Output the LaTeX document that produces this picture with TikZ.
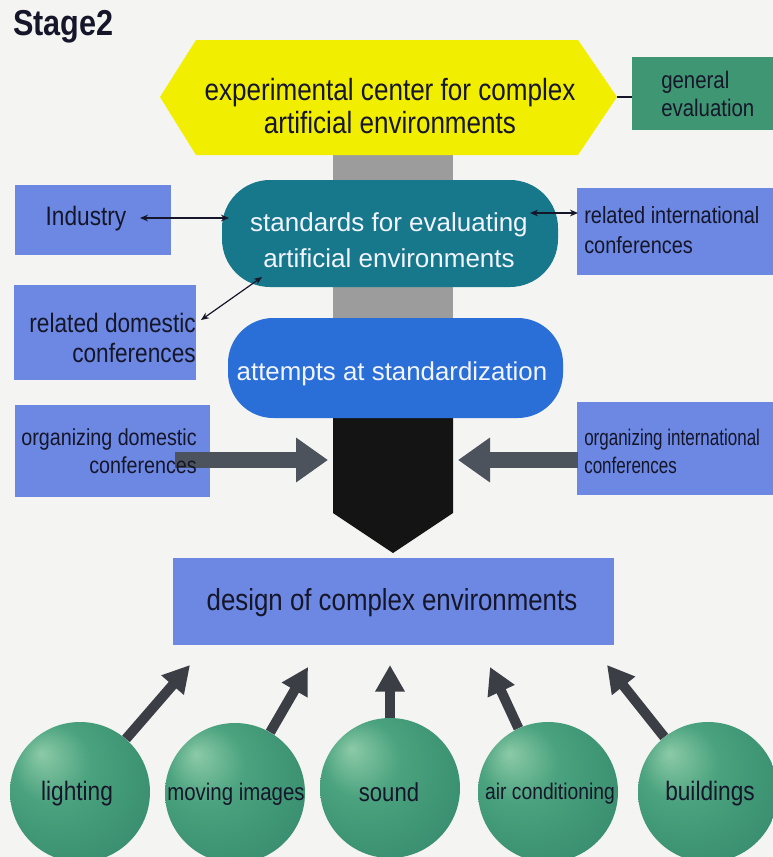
\documentclass[tikz,border=0pt]{standalone}
\usepackage{fontspec}
\setmainfont{Liberation Sans}[FakeStretch=0.85]
\newfontfamily\wfont{Liberation Sans}
\newfontfamily\nfont{Liberation Sans}[FakeStretch=0.75]
\usetikzlibrary{arrows.meta}
\definecolor{bgc}{HTML}{F4F4F2}
\definecolor{hexyellow}{HTML}{F2EE00}
\definecolor{evalgreen}{HTML}{3F9672}
\definecolor{tealbox}{HTML}{17788C}
\definecolor{bluebox}{HTML}{2A6ED8}
\definecolor{lightbox}{HTML}{6C88E2}
\definecolor{greybar}{HTML}{9C9C9C}
\definecolor{blackbar}{HTML}{141414}
\definecolor{bigarr}{HTML}{4D535C}
\definecolor{sphcarr}{HTML}{3B3E45}
\definecolor{txtdark}{HTML}{16162A}
\definecolor{txtwhite}{HTML}{F2F5FF}
\definecolor{sphhi}{HTML}{8CCAA8}
\definecolor{sphmid}{HTML}{4AA27E}
\definecolor{sphmain}{HTML}{3A9070}
\definecolor{sphdark}{HTML}{1D6348}
\pgfdeclareradialshading{sphshade}{\pgfpoint{-14bp}{14bp}}{color(0bp)=(sphhi); color(14bp)=(sphmid); color(32bp)=(sphmain); color(52bp)=(sphdark)}
\newcommand\myfs[2]{\fontsize{#1}{#2}\selectfont}
\tikzset{
  lbox/.style={rectangle, fill=lightbox, inner sep=0pt},
  dtext/.style={text=txtdark, inner sep=0pt, align=center},
  wtext/.style={text=txtwhite, inner sep=0pt, align=center},
  thinarr/.style={draw=txtdark, line width=0.9pt, {Stealth[length=6pt,width=5pt]}-{Stealth[length=6pt,width=5pt]}},
  bigarrow/.style={draw=bigarr, line width=12pt, -{Triangle[length=24pt,width=32pt]}},
  sphearrow/.style={draw=sphcarr, line width=7.5pt, -{Triangle[length=20pt,width=21pt]}},
  sphere/.style={circle, minimum size=105pt, inner sep=0pt, shading=sphshade},
}
\begin{document}
\begin{tikzpicture}[x=0.75pt,y=-0.75pt]
\useasboundingbox (0,0) rectangle (773,857);
\fill[bgc] (0,0) rectangle (773,857);

% title
\node[dtext, anchor=west, font=\bfseries\myfs{27pt}{30pt}] (title) at (13,27) {Stage2};

% central bars
\fill[greybar] (333,150) rectangle (453,330);
\fill[blackbar] (333,410) -- (453,410) -- (453,513) -- (393,553) -- (333,513) -- cycle;

% hexagon
\fill[hexyellow] (160,97) -- (196,40) -- (578,40) -- (617,97) -- (578,155) -- (196,155) -- cycle;
\node[dtext, font=\myfs{23pt}{24.75pt}] (hex) at (390,106) {experimental center for complex\\artificial environments};
\coordinate (hexR) at (617,97);

% general evaluation
\node[rectangle, fill=evalgreen, minimum width=107.25pt, minimum height=54.75pt, inner sep=0pt] (geval) at (703.5,93.5) {};
\node[dtext, align=left, anchor=west, font=\myfs{18pt}{21pt}] (gevalt) at (661,94) {general\\evaluation};
\draw[draw=txtdark, line width=2pt] (hexR) -- (geval.west |- hexR);

% teal and blue rounded boxes
\node[rectangle, fill=tealbox, rounded corners=36pt, minimum width=252pt, minimum height=80.25pt, inner sep=0pt] (teal) at (390,233.5) {};
\node[wtext, font=\wfont\myfs{19.5pt}{27pt}] (tealt) at (389,240) {standards for evaluating\\artificial environments};
\node[rectangle, fill=bluebox, rounded corners=34pt, minimum width=251.25pt, minimum height=75pt, inner sep=0pt] (blue) at (395.5,368) {};
\node[wtext, font=\wfont\myfs{19.4pt}{24pt}] (bluet) at (392,374) {attempts at standardization};

% light boxes
\node[lbox, minimum width=117pt, minimum height=52.5pt] (industry) at (93,220) {};
\node[dtext, font=\myfs{20pt}{24pt}] (industryt) at (86,219) {Industry};
\node[lbox, minimum width=136.5pt, minimum height=71.25pt] (reldom) at (105,332.5) {};
\node[dtext, align=right, anchor=east, font=\myfs{20pt}{22.5pt}] (reldomt) at (196,338) {related domestic\\conferences};
\node[lbox, minimum width=148.5pt, minimum height=65.25pt] (relint) at (676,231.5) {};
\node[dtext, align=left, anchor=west, font=\myfs{17.6pt}{23pt}] (relintt) at (584,230) {related international\\conferences};
\node[lbox, minimum width=146.25pt, minimum height=69pt] (orgdom) at (112.5,451) {};
\node[lbox, minimum width=148.5pt, minimum height=69.75pt] (orgint) at (676,448.5) {};
\node[lbox, minimum width=330.75pt, minimum height=65.25pt] (design) at (393.5,601.5) {};

% thin double arrows
\coordinate (indA) at (140,218);
\coordinate (tealL) at (229,218);
\coordinate (domA) at (201,320);
\coordinate (tealLL) at (262,277);
\coordinate (tealR) at (530,213);
\coordinate (intA) at (578,213);
\draw[thinarr] (indA) -- (tealL);
\draw[thinarr] (domA) -- (tealLL);
\draw[thinarr] (tealR) -- (intA);

% big arrows
\coordinate (odA) at (175,460);
\coordinate (blackL) at (328,460);
\coordinate (oiA) at (578,460);
\coordinate (blackR) at (458,460);
\draw[bigarrow] (odA) -- (blackL);
\draw[bigarrow] (oiA) -- (blackR);

\node[dtext, align=right, anchor=east, font=\myfs{17.4pt}{21pt}] (orgdomt) at (197,451) {organizing domestic\\conferences};
\node[dtext, align=left, anchor=west, font=\nfont\myfs{17pt}{21pt}] (orgintt) at (584,451) {organizing international\\conferences};
\node[dtext, font=\myfs{22.8pt}{26pt}] (designt) at (392,603) {design of complex environments};

% spheres
\coordinate (t1) at (190,665);
\coordinate (t2) at (308,667);
\coordinate (t3) at (390,665);
\coordinate (t4) at (490,667);
\coordinate (t5) at (607,665);
\node[sphere] (s1) at (80,792) {};
\node[sphere] (s2) at (235,793) {};
\node[sphere] (s3) at (390,788) {};
\node[sphere] (s4) at (548,792) {};
\node[sphere] (s5) at (708,792) {};
\draw[sphearrow] (s1) -- (t1);
\draw[sphearrow] (s2) -- (t2);
\draw[sphearrow] (s3) -- (t3);
\draw[sphearrow] (s4) -- (t4);
\draw[sphearrow] (s5) -- (t5);
\node[dtext, font=\myfs{20pt}{24pt}] (l1) at (77,794) {lighting};
\node[dtext, font=\myfs{18pt}{24pt}] (l2) at (236,794) {moving images};
\node[dtext, font=\myfs{19.5pt}{24pt}] (l3) at (389,792) {sound};
\node[dtext, font=\myfs{17pt}{24pt}] (l4) at (550,794) {air conditioning};
\node[dtext, font=\myfs{20pt}{24pt}] (l5) at (710,794) {buildings};
\end{tikzpicture}
\end{document}
